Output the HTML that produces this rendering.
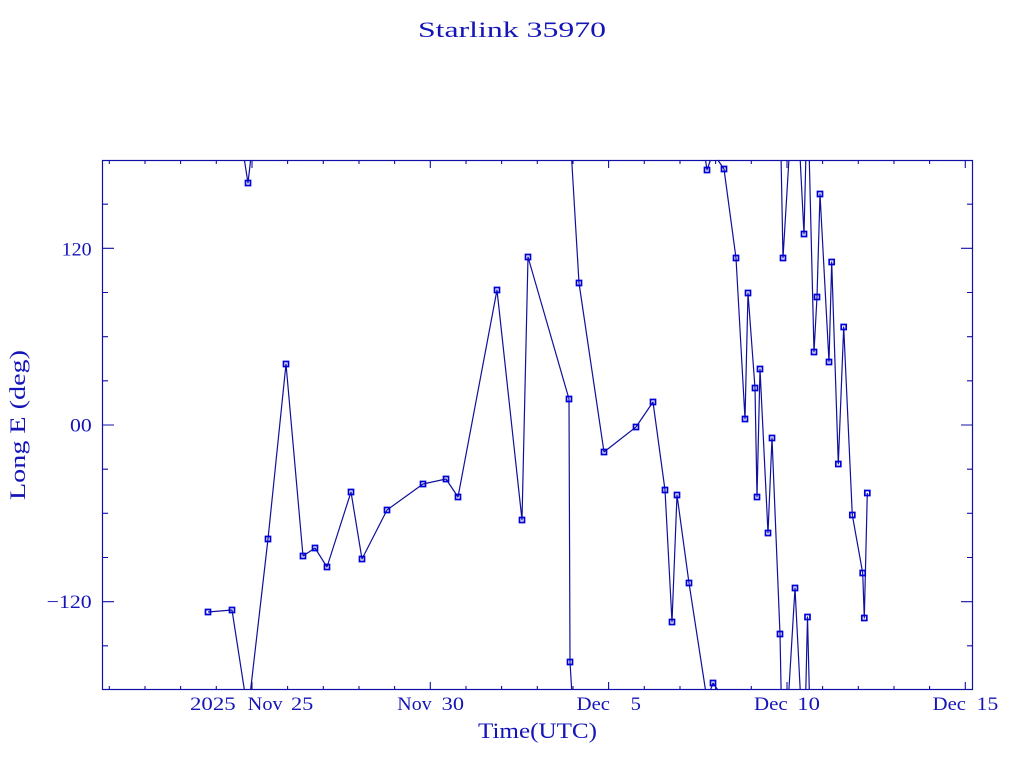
<!DOCTYPE html>
<html>
<head>
<meta charset="utf-8">
<style>
  html, body { margin: 0; padding: 0; background: #ffffff; width: 1024px; height: 768px; overflow: hidden; }
  svg { display: block; }
  text { font-family: "Liberation Serif", "DejaVu Serif", serif; fill: #1414b8; }
</style>
</head>
<body>
<svg width="1024" height="768" viewBox="0 0 1024 768" xmlns="http://www.w3.org/2000/svg">
  <rect x="0" y="0" width="1024" height="768" fill="#ffffff"/>

  <!-- data line segments (longitude wraps at ±180) -->
  <g fill="none" stroke="#10109c" stroke-width="1.2" stroke-linejoin="round">
    <polyline points="208,612 232,610 244.4,690"/>
    <polyline points="250.6,690 268,539 286,364 303,556 315,548 327,567 351,492 362,559 387,510 423,484 446,479 458,497 497,290 522,520 528,257 569,399 570,662 571.7,690"/>
    <polyline points="244.4,160 248,183 250.6,160"/>
    <polyline points="571.7,160 579,283 604,452 636,427 653,402 665,490 672,622 677,495 689,583 705.5,690"/>
    <polyline points="710.5,690 713,683 717.8,690"/>
    <polyline points="705.5,160 707,170 710.5,160"/>
    <polyline points="717.8,160 724,169 736,258 745,419 748,293 755,388 757,497 760,369 768,533 772,438 780,634 781.1,690"/>
    <polyline points="788.9,690 795,588 800.2,690"/>
    <polyline points="805.8,690 807.5,617 809.3,690"/>
    <polyline points="781.1,160 783,258 788.9,160"/>
    <polyline points="800.2,160 804,234 805.8,160"/>
    <polyline points="809.3,160 814,352 817,297 820,194 829,362 831.7,262 838.3,464 843.7,327 852.3,515 862.7,573 864.3,618 867.3,493"/>
  </g>

  <!-- markers -->
  <path fill="none" stroke="#0000d8" stroke-width="1.7"
    d="M205.5 609.5h5v5h-5z M229.5 607.5h5v5h-5z M245.5 180.5h5v5h-5z M265.5 536.5h5v5h-5z M283.5 361.5h5v5h-5z M300.5 553.5h5v5h-5z M312.5 545.5h5v5h-5z M324.5 564.5h5v5h-5z M348.5 489.5h5v5h-5z M359.5 556.5h5v5h-5z M384.5 507.5h5v5h-5z M420.5 481.5h5v5h-5z M443.5 476.5h5v5h-5z M455.5 494.5h5v5h-5z M494.5 287.5h5v5h-5z M519.5 517.5h5v5h-5z M525.5 254.5h5v5h-5z M566.5 396.5h5v5h-5z M567.5 659.5h5v5h-5z
       M576.5 280.5h5v5h-5z M601.5 449.5h5v5h-5z M633.5 424.5h5v5h-5z M650.5 399.5h5v5h-5z M662.5 487.5h5v5h-5z M669.5 619.5h5v5h-5z M674.5 492.5h5v5h-5z M686.5 580.5h5v5h-5z M710.5 680.5h5v5h-5z
       M704.5 167.5h5v5h-5z M721.5 166.5h5v5h-5z M733.5 255.5h5v5h-5z M742.5 416.5h5v5h-5z M745.5 290.5h5v5h-5z M752.5 385.5h5v5h-5z M754.5 494.5h5v5h-5z M757.5 366.5h5v5h-5z M765.5 530.5h5v5h-5z M769.5 435.5h5v5h-5z M777.5 631.5h5v5h-5z M792.5 585.5h5v5h-5z M805 614.5h5v5h-5z
       M780.5 255.5h5v5h-5z M801.5 231.5h5v5h-5z M811.5 349.5h5v5h-5z M814.5 294.5h5v5h-5z M817.5 191.5h5v5h-5z M826.5 359.5h5v5h-5z M829.2 259.5h5v5h-5z M835.8 461.5h5v5h-5z M841.2 324.5h5v5h-5z M849.8 512.5h5v5h-5z M860.2 570.5h5v5h-5z M861.8 615.5h5v5h-5z M864.8 490.5h5v5h-5z"/>

  <!-- frame -->
  <rect x="102.5" y="160.5" width="870" height="529" fill="none" stroke="#1010a8" stroke-width="1.2"/>

  <!-- ticks -->
  <g stroke="#1010a8" stroke-width="1.1" fill="none">
    <path d="
      M109.3 690v-4 M145 690v-4 M180.6 690v-4 M216.3 690v-4 M252 690v-8 M287.6 690v-4 M323.3 690v-4 M359 690v-4 M394.6 690v-4 M430.3 690v-8
      M466 690v-4 M501.6 690v-4 M537.3 690v-4 M573 690v-4 M608.6 690v-8 M644.3 690v-4 M680 690v-4 M715.6 690v-4 M751.3 690v-4 M787 690v-8
      M822.6 690v-4 M858.3 690v-4 M894 690v-4 M929.6 690v-4 M965.3 690v-8
      M109.3 160v4 M145 160v4 M180.6 160v4 M216.3 160v4 M252 160v8 M287.6 160v4 M323.3 160v4 M359 160v4 M394.6 160v4 M430.3 160v8
      M466 160v4 M501.6 160v4 M537.3 160v4 M573 160v4 M608.6 160v8 M644.3 160v4 M680 160v4 M715.6 160v4 M751.3 160v4 M787 160v8
      M822.6 160v4 M858.3 160v4 M894 160v4 M929.6 160v4 M965.3 160v8"/>
    <path d="
      M102 204.2h6 M102 248.3h12 M102 292.5h6 M102 336.7h6 M102 380.8h6 M102 425h12 M102 469.2h6 M102 513.3h6 M102 557.5h6 M102 601.7h12 M102 645.8h6
      M973 204.2h-6 M973 248.3h-12 M973 292.5h-6 M973 336.7h-6 M973 380.8h-6 M973 425h-12 M973 469.2h-6 M973 513.3h-6 M973 557.5h-6 M973 601.7h-12 M973 645.8h-6"/>
  </g>

  <!-- title -->
  <text x="512" y="37" text-anchor="middle" font-size="22" textLength="188" lengthAdjust="spacingAndGlyphs">Starlink 35970</text>

  <!-- x tick labels -->
  <g font-size="19">
    <text x="190" y="710" textLength="45.7" lengthAdjust="spacingAndGlyphs">2025</text>
    <text x="247.7" y="710" textLength="35" lengthAdjust="spacingAndGlyphs">Nov</text>
    <text x="291" y="710" textLength="22.3" lengthAdjust="spacingAndGlyphs">25</text>
    <text x="397.3" y="710" textLength="34.4" lengthAdjust="spacingAndGlyphs">Nov</text>
    <text x="441.7" y="710" textLength="22.3" lengthAdjust="spacingAndGlyphs">30</text>
    <text x="576.7" y="710" textLength="33.3" lengthAdjust="spacingAndGlyphs">Dec</text>
    <text x="630.7" y="710" textLength="10.3" lengthAdjust="spacingAndGlyphs">5</text>
    <text x="754" y="710" textLength="33.7" lengthAdjust="spacingAndGlyphs">Dec</text>
    <text x="797.3" y="710" textLength="22.7" lengthAdjust="spacingAndGlyphs">10</text>
    <text x="932.7" y="710" textLength="33.3" lengthAdjust="spacingAndGlyphs">Dec</text>
    <text x="976.7" y="710" textLength="21.6" lengthAdjust="spacingAndGlyphs">15</text>
  </g>

  <!-- y tick labels -->
  <g font-size="19">
    <text x="61.7" y="255.5" textLength="30" lengthAdjust="spacingAndGlyphs">120</text>
    <text x="70" y="431.5" textLength="21.7" lengthAdjust="spacingAndGlyphs">00</text>
    <text x="46.7" y="608" textLength="45" lengthAdjust="spacingAndGlyphs">−120</text>
  </g>

  <!-- axis labels -->
  <text x="537.5" y="738" text-anchor="middle" font-size="22" textLength="119" lengthAdjust="spacingAndGlyphs">Time(UTC)</text>
  <text transform="translate(25,425) rotate(-90)" text-anchor="middle" font-size="22" textLength="150" lengthAdjust="spacingAndGlyphs">Long E (deg)</text>
</svg>
</body>
</html>
